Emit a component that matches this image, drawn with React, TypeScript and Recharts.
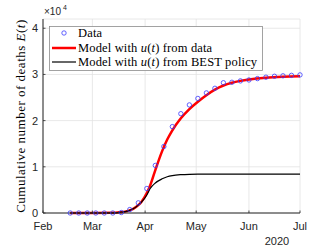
import React from 'react';
import { ComposedChart, Line, Scatter, XAxis, YAxis, CartesianGrid } from 'recharts';

// days counted from 1 Feb 2020
const dataDays = [16, 21, 26, 31, 36, 41, 46, 51, 56, 61, 66, 71, 76, 81, 86, 91, 96, 101, 106, 111, 116, 121, 126, 131, 136, 141, 146, 151];
const dataDeaths = [0, 0, 0, 0, 0, 0, 100, 750, 2200, 5300, 10300, 14400, 18700, 21500, 23400, 24800, 26000, 27000, 28200, 28300, 28600, 28800, 29100, 29400, 29600, 29700, 29800, 29900];

const modelDays = [16, 30, 40, 45, 50, 53, 56, 58, 61, 63, 66, 70, 73, 76, 81, 86, 91, 96, 101, 106, 111, 116, 121, 131, 141, 151];
const modelFromData = [0, 0, 30, 150, 450, 900, 1700, 2500, 4300, 6000, 9300, 13400, 15900, 17900, 20500, 22500, 24100, 25500, 26700, 27600, 28200, 28600, 28900, 29300, 29500, 29600];
const modelBest = [0, 0, 30, 150, 450, 900, 1700, 2400, 3900, 5300, 6500, 7400, 7850, 8100, 8300, 8380, 8400, 8400, 8400, 8400, 8400, 8400, 8400, 8400, 8400, 8400];

const monthTicks = [0, 29, 60, 90, 121, 151];
const monthLabels = ['Feb', 'Mar', 'Apr', 'May', 'Jun', 'Jul'];
const yTicks = [0, 10000, 20000, 30000, 40000];

const scatterData = dataDays.map((d, i) => ({ day: d, v: dataDeaths[i] }));
const redData = modelDays.map((d, i) => ({ day: d, v: modelFromData[i] }));
const blackData = modelDays.map((d, i) => ({ day: d, v: modelBest[i] }));

const sans = 'Liberation Sans, Arial, sans-serif';
const serif = 'Liberation Serif, Times New Roman, serif';
const axisColor = '#262626';

const Circle = (props: any) => (
  <circle cx={props.cx} cy={props.cy} r={2.2} fill="none" stroke="#3a3aff" strokeWidth={0.8} />
);

// matlab style: tick marks point into the plot
const XTick = (props: any) => {
  const { x, y, payload } = props;
  const axisY = y - 9;
  return (
    <g>
      <line x1={x} x2={x} y1={axisY} y2={axisY - 2.5} stroke={axisColor} strokeWidth={0.8} />
      <text x={x} y={y} dy="0.71em" textAnchor="middle" fontSize={11} fontFamily={sans} fill={axisColor}>
        {monthLabels[monthTicks.indexOf(payload.value)]}
      </text>
    </g>
  );
};

const YTick = (props: any) => {
  const { x, y, payload } = props;
  const axisX = x + 5;
  return (
    <g>
      <line x1={axisX} x2={axisX + 2.5} y1={y} y2={y} stroke={axisColor} strokeWidth={0.8} />
      <text x={x} y={y} dy="0.355em" textAnchor="end" fontSize={11} fontFamily={sans} fill={axisColor}>
        {String(payload.value / 10000)}
      </text>
    </g>
  );
};

export default function App() {
  return (
    <div style={{ position: 'absolute', left: 0, top: 0, width: 332, height: 249, background: '#fff' }}>
      <ComposedChart width={332} height={249} margin={{ top: 19, right: 32, bottom: 0, left: 0 }}>
        <CartesianGrid stroke="#e2e2e2" strokeWidth={0.8} />
        <XAxis
          type="number"
          dataKey="day"
          domain={[0, 151]}
          ticks={monthTicks}
          tick={<XTick />}
          tickLine={false}
          tickSize={5}
          tickMargin={4}
          height={36}
          axisLine={{ stroke: axisColor }}
          allowDuplicatedCategory={false}
        />
        <YAxis
          type="number"
          dataKey="v"
          domain={[0, 42000]}
          ticks={yTicks}
          tick={<YTick />}
          tickLine={false}
          tickSize={3}
          tickMargin={2}
          width={43}
          axisLine={{ stroke: axisColor }}
        />
        <Scatter data={scatterData} dataKey="v" shape={Circle} isAnimationActive={false} />
        <Line data={redData} dataKey="v" type="monotone" stroke="#ff0000" strokeWidth={2.5} dot={false} isAnimationActive={false} />
        <Line data={blackData} dataKey="v" type="monotone" stroke="#000000" strokeWidth={1.2} dot={false} isAnimationActive={false} />
      </ComposedChart>
      <svg width={332} height={249} style={{ position: 'absolute', left: 0, top: 0, pointerEvents: 'none' }}>
        <text x={44} y={15} fontSize={10} fontFamily={sans} fill={axisColor}>×10</text>
        <text x={63} y={10} fontSize={7} fontFamily={sans} fill={axisColor}>4</text>
        <text x={277} y={245} fontSize={11} fontFamily={sans} fill={axisColor} textAnchor="middle">2020</text>
        <text transform="translate(25,116) rotate(-90)" fontSize={13} letterSpacing={0.5} fontFamily={serif} fill="#000" textAnchor="middle">
          Cumulative number of deaths <tspan fontStyle="italic">E</tspan>(<tspan fontStyle="italic">t</tspan>)
        </text>
        <rect x={49.5} y={26.5} width={213} height={44} fill="#fff" stroke="#8c8c8c" strokeWidth={0.8} />
        <circle cx={64} cy={33} r={2.2} fill="none" stroke="#3a3aff" strokeWidth={0.8} />
        <line x1={52} x2={76} y1={48} y2={48} stroke="#ff0000" strokeWidth={2.5} />
        <line x1={52} x2={76} y1={62} y2={62} stroke="#000" strokeWidth={1.2} />
        <g fontSize={12.5} letterSpacing={0.15} fontFamily={serif} fill="#000">
          <text x={78} y={37}>Data</text>
          <text x={78} y={52}>
            Model with <tspan fontStyle="italic">u</tspan>(<tspan fontStyle="italic">t</tspan>) from data
          </text>
          <text x={78} y={66}>
            Model with <tspan fontStyle="italic">u</tspan>(<tspan fontStyle="italic">t</tspan>) from BEST policy
          </text>
        </g>
      </svg>
    </div>
  );
}
